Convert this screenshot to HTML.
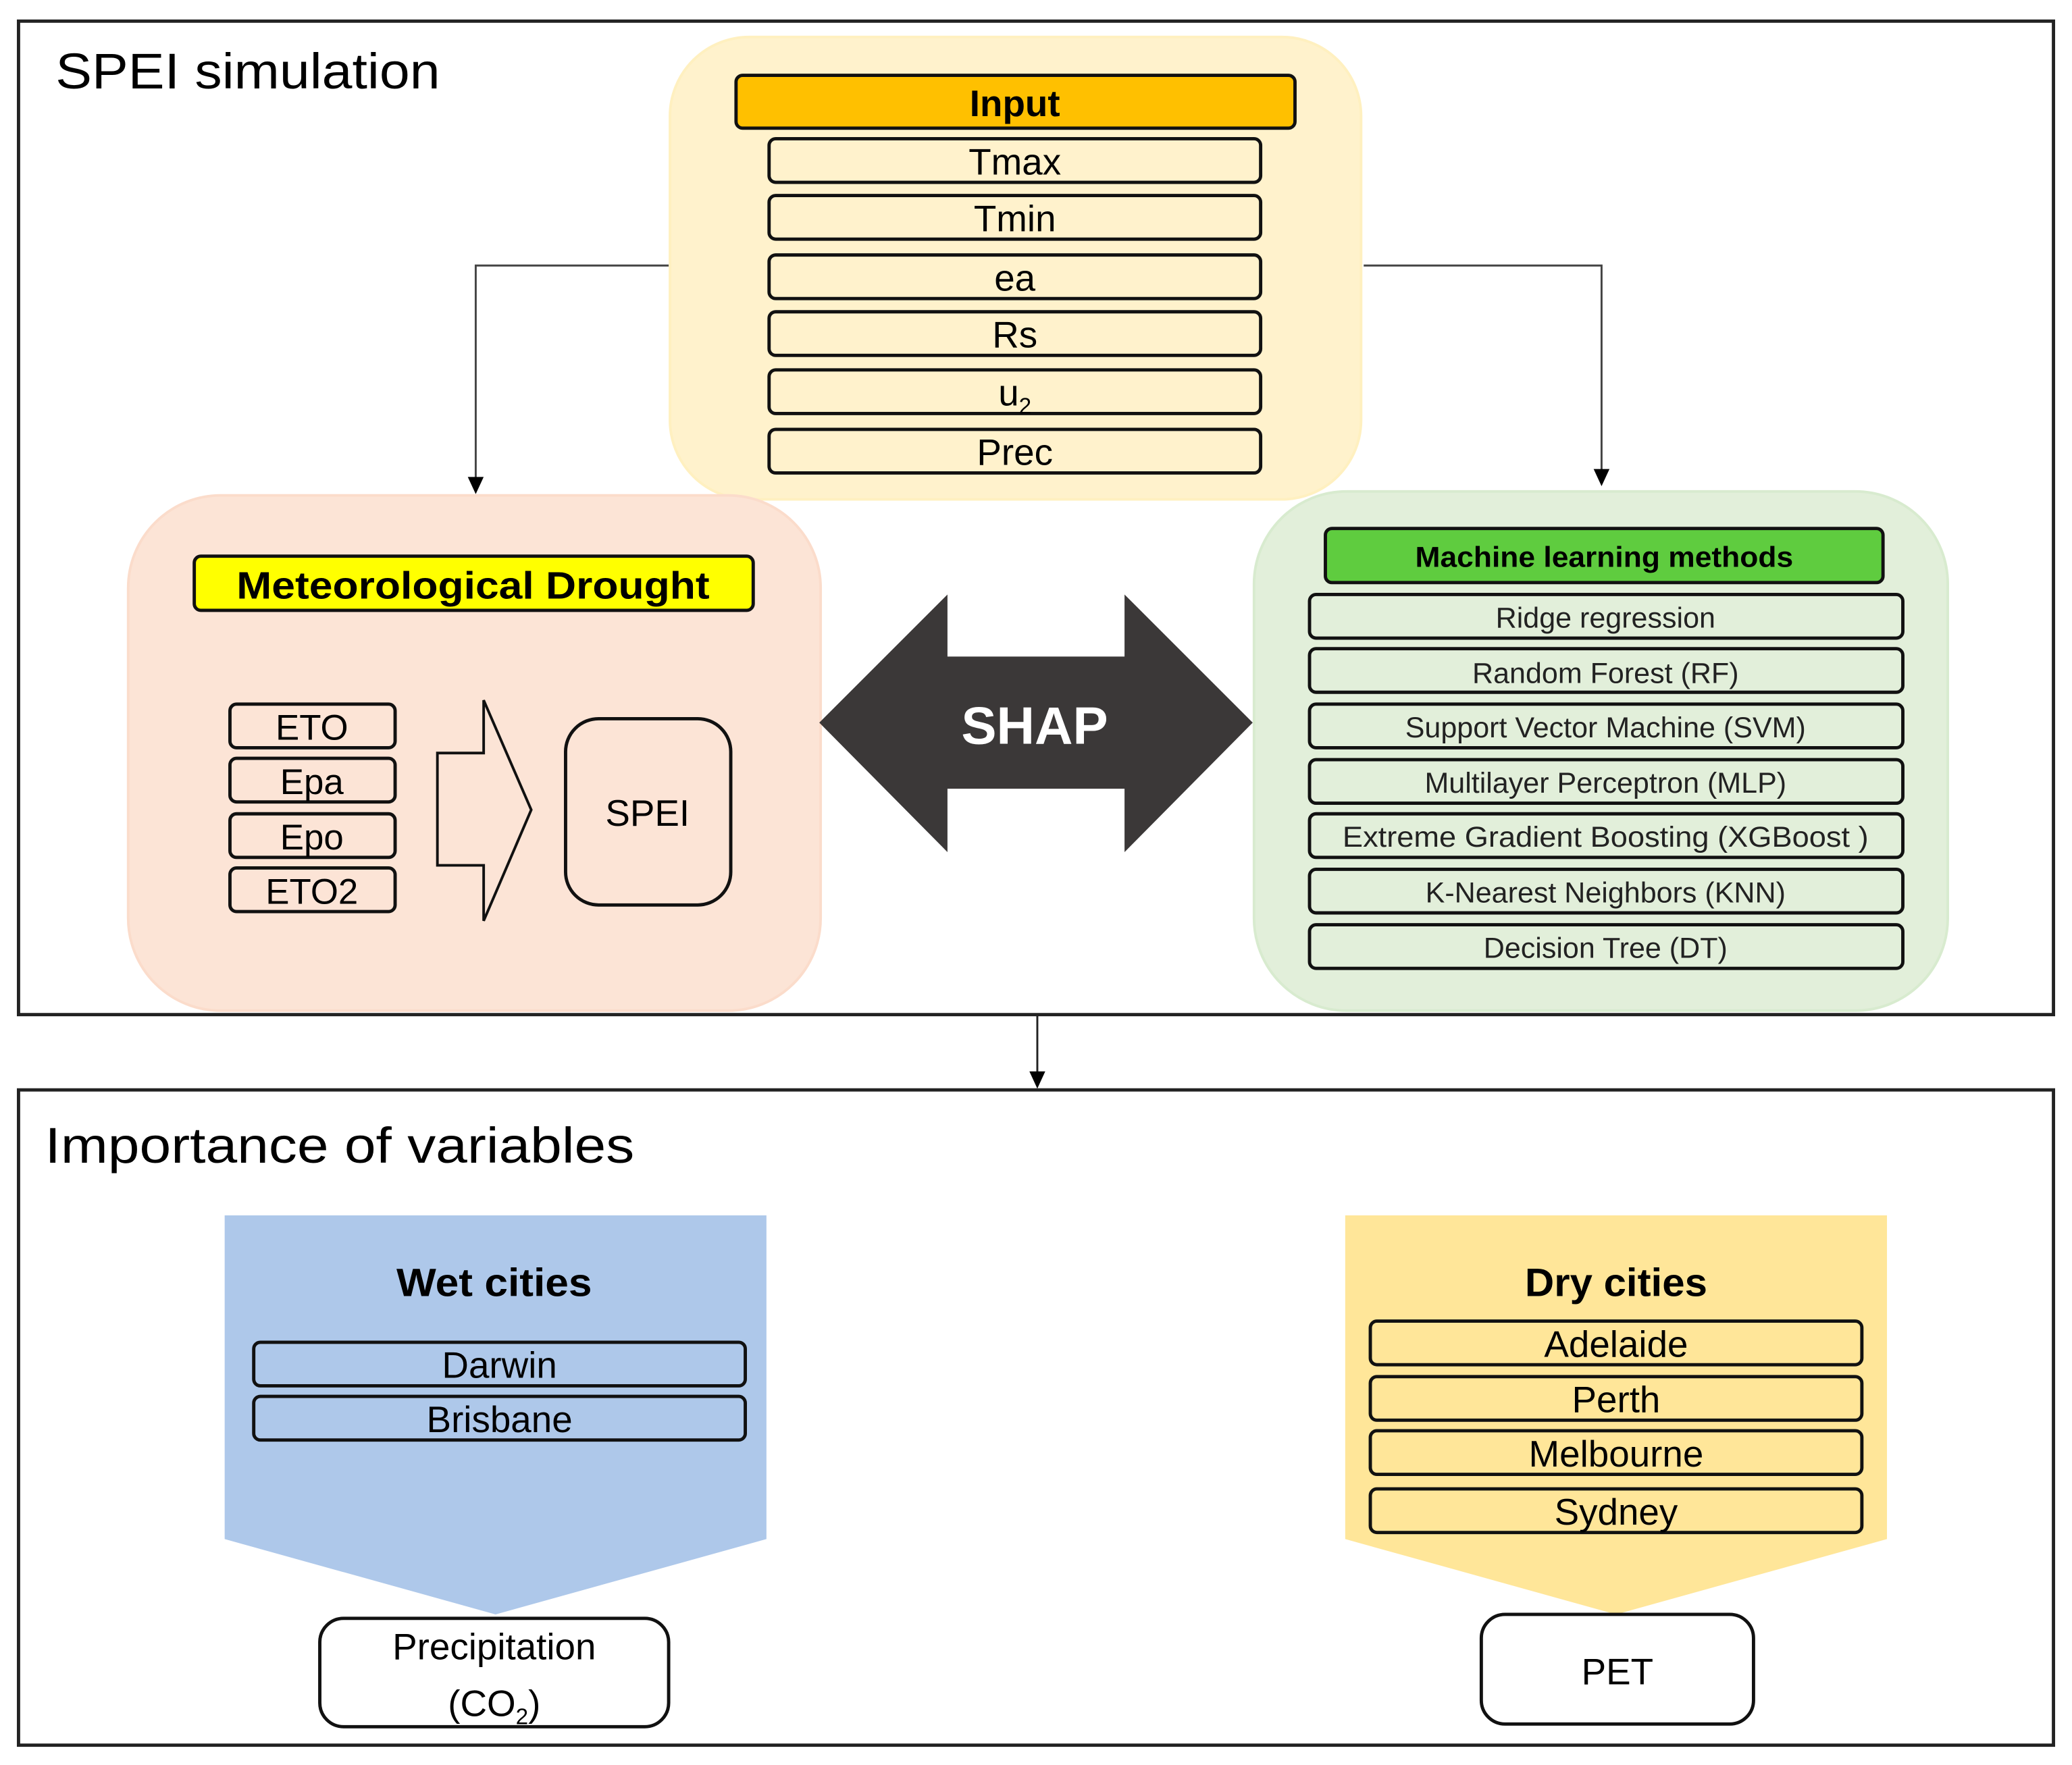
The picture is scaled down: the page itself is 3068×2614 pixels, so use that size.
<!DOCTYPE html>
<html><head><meta charset="utf-8"><style>
html,body{margin:0;padding:0;background:#fff}
svg{display:block}
text{font-family:"Liberation Sans",sans-serif}
</style></head><body>
<svg width="3068" height="2614" viewBox="0 0 1568 1336" xmlns="http://www.w3.org/2000/svg">
<rect width="1568" height="1336" fill="#fff"/>
<rect x="14" y="16" width="1540" height="752" fill="none" stroke="#222" stroke-width="2.5"/>
<text x="42" y="67" font-size="38" textLength="291" lengthAdjust="spacingAndGlyphs">SPEI simulation</text>

<polyline points="507,201 360,201 360,362" fill="none" stroke="#444" stroke-width="1.5"/>
<path d="M354,361 L366,361 L360,374 Z" fill="#000"/>
<polyline points="1032,201 1212,201 1212,356" fill="none" stroke="#444" stroke-width="1.5"/>
<path d="M1206,355 L1218,355 L1212,368 Z" fill="#000"/>
<line x1="785" y1="768" x2="785" y2="812" stroke="#222" stroke-width="1.5"/>
<path d="M779,811 L791,811 L785,824 Z" fill="#000"/>

<rect x="507" y="28" width="523" height="350" rx="60" fill="#fff2cc" stroke="#fff0c0" stroke-width="2"/>
<rect x="557" y="57" width="423" height="40" rx="5" fill="#ffc000" stroke="#111" stroke-width="2.5"/>
<text x="768" y="88" font-size="28" font-weight="bold" text-anchor="middle">Input</text>
<g fill="#fff2cc" stroke="#111" stroke-width="2.5">
<rect x="582" y="105" width="372" height="33" rx="5"/>
<rect x="582" y="148" width="372" height="33" rx="5"/>
<rect x="582" y="193" width="372" height="33" rx="5"/>
<rect x="582" y="236" width="372" height="33" rx="5"/>
<rect x="582" y="280" width="372" height="33" rx="5"/>
<rect x="582" y="325" width="372" height="33" rx="5"/>
</g>
<g font-size="28" text-anchor="middle">
<text x="768" y="132">Tmax</text>
<text x="768" y="175">Tmin</text>
<text x="768" y="220">ea</text>
<text x="768" y="263">Rs</text>
<text x="768" y="307">u<tspan font-size="17" dy="6">2</tspan></text>
<text x="768" y="352">Prec</text>
</g>

<rect x="97" y="375" width="524" height="390" rx="70" fill="#fce4d6" stroke="#fbdccb" stroke-width="2"/>
<rect x="147" y="421" width="423" height="41" rx="5" fill="#ffff00" stroke="#111" stroke-width="2.5"/>
<text x="358" y="453" font-size="29" font-weight="bold" text-anchor="middle" textLength="358" lengthAdjust="spacingAndGlyphs">Meteorological Drought</text>
<g fill="#fce4d6" stroke="#111" stroke-width="2.5">
<rect x="174" y="533" width="125" height="33" rx="5"/>
<rect x="174" y="574" width="125" height="33" rx="5"/>
<rect x="174" y="616" width="125" height="33" rx="5"/>
<rect x="174" y="657" width="125" height="33" rx="5"/>
</g>
<g font-size="27" text-anchor="middle">
<text x="236" y="560">ETO</text>
<text x="236" y="601">Epa</text>
<text x="236" y="643">Epo</text>
<text x="236" y="684">ETO2</text>
</g>
<path d="M331,570 L366,570 L366,530 L402,613 L366,697 L366,655 L331,655 Z" fill="#fce4d6" stroke="#111" stroke-width="2"/>
<rect x="428" y="544" width="125" height="141" rx="25" fill="#fce4d6" stroke="#111" stroke-width="2.5"/>
<text x="490" y="625" font-size="28" text-anchor="middle">SPEI</text>

<path d="M620,547 L717,450 L717,497 L851,497 L851,450 L948,547 L851,645 L851,597 L717,597 L717,645 Z" fill="#3b3838"/>
<text x="783" y="563" font-size="40" font-weight="bold" fill="#fff" text-anchor="middle">SHAP</text>

<rect x="949" y="372" width="525" height="393" rx="70" fill="#e2efda" stroke="#d8ebcf" stroke-width="2"/>
<rect x="1003" y="400" width="422" height="41" rx="5" fill="#5fcc3f" stroke="#111" stroke-width="2.5"/>
<text x="1214" y="429" font-size="22" font-weight="bold" text-anchor="middle" textLength="286" lengthAdjust="spacingAndGlyphs">Machine learning methods</text>
<g fill="#e2efda" stroke="#111" stroke-width="2.5">
<rect x="991" y="450" width="449" height="33" rx="5"/>
<rect x="991" y="491" width="449" height="33" rx="5"/>
<rect x="991" y="533" width="449" height="33" rx="5"/>
<rect x="991" y="575" width="449" height="33" rx="5"/>
<rect x="991" y="616" width="449" height="33" rx="5"/>
<rect x="991" y="658" width="449" height="33" rx="5"/>
<rect x="991" y="700" width="449" height="33" rx="5"/>
</g>
<g font-size="22" text-anchor="middle" fill="#222">
<text x="1215" y="475">Ridge regression</text>
<text x="1215" y="517">Random Forest (RF)</text>
<text x="1215" y="558">Support Vector Machine (SVM)</text>
<text x="1215" y="600">Multilayer Perceptron (MLP)</text>
<text x="1215" y="641" textLength="398" lengthAdjust="spacingAndGlyphs">Extreme Gradient Boosting (XGBoost )</text>
<text x="1215" y="683">K-Nearest Neighbors (KNN)</text>
<text x="1215" y="725">Decision Tree (DT)</text>
</g>

<rect x="14" y="825" width="1540" height="496" fill="none" stroke="#222" stroke-width="2.5"/>
<text x="34" y="880" font-size="38" textLength="446" lengthAdjust="spacingAndGlyphs">Importance of variables</text>

<path d="M170,920 L580,920 L580,1165 L375,1222 L170,1165 Z" fill="#aec8ea"/>
<text x="374" y="981" font-size="30" font-weight="bold" text-anchor="middle" textLength="148" lengthAdjust="spacingAndGlyphs">Wet cities</text>
<g fill="#aec8ea" stroke="#111" stroke-width="2.5">
<rect x="192" y="1016" width="372" height="33" rx="5"/>
<rect x="192" y="1057" width="372" height="33" rx="5"/>
</g>
<g font-size="28" text-anchor="middle">
<text x="378" y="1043">Darwin</text>
<text x="378" y="1084">Brisbane</text>
</g>

<path d="M1018,920 L1428,920 L1428,1165 L1223,1222 L1018,1165 Z" fill="#ffe699"/>
<text x="1223" y="981" font-size="30" font-weight="bold" text-anchor="middle" textLength="138" lengthAdjust="spacingAndGlyphs">Dry cities</text>
<g fill="#ffe699" stroke="#111" stroke-width="2.5">
<rect x="1037" y="1000" width="372" height="33" rx="5"/>
<rect x="1037" y="1042" width="372" height="33" rx="5"/>
<rect x="1037" y="1083" width="372" height="33" rx="5"/>
<rect x="1037" y="1127" width="372" height="33" rx="5"/>
</g>
<g font-size="28" text-anchor="middle">
<text x="1223" y="1027">Adelaide</text>
<text x="1223" y="1069">Perth</text>
<text x="1223" y="1110">Melbourne</text>
<text x="1223" y="1154">Sydney</text>
</g>

<rect x="242" y="1225" width="264" height="82" rx="18" fill="#fff" stroke="#111" stroke-width="2.5"/>
<text x="374" y="1256" font-size="28" text-anchor="middle">Precipitation</text>
<text x="374" y="1299" font-size="28" text-anchor="middle">(CO<tspan font-size="17" dy="6">2</tspan><tspan dy="-6">)</tspan></text>
<rect x="1121" y="1222" width="206" height="83" rx="18" fill="#fff" stroke="#111" stroke-width="2.5"/>
<text x="1224" y="1275" font-size="28" text-anchor="middle">PET</text>
</svg>
</body></html>
